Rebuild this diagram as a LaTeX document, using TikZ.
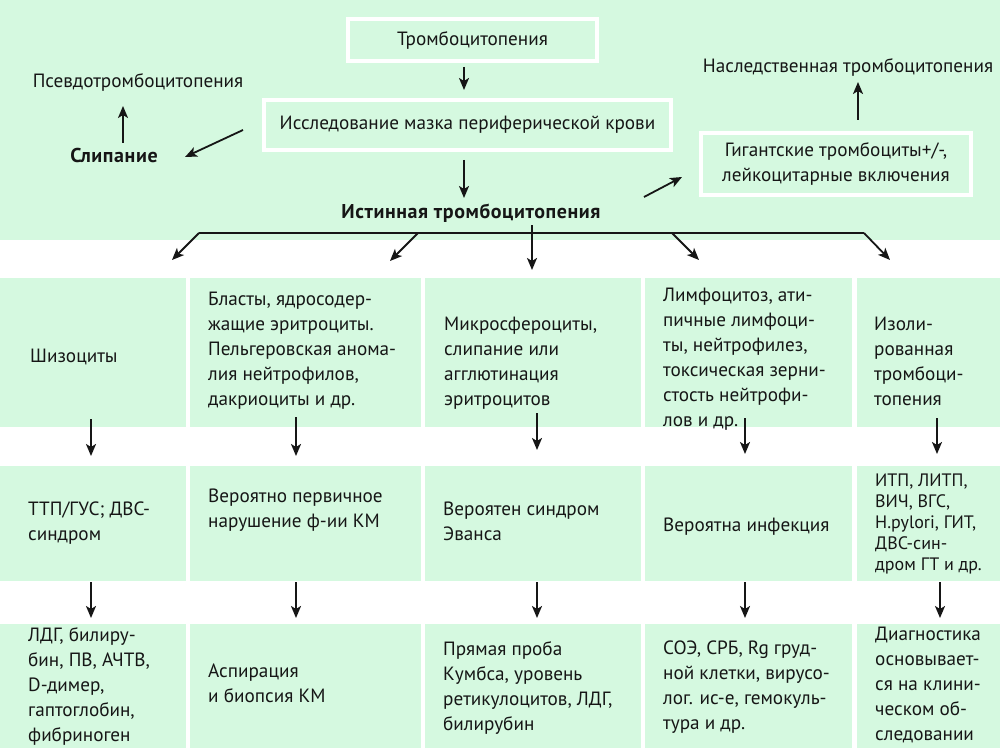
\documentclass[tikz,border=0pt]{standalone}
\usepackage{fontspec}
\setmainfont{PT Sans}
\usetikzlibrary{arrows.meta}
\definecolor{mint}{RGB}{213,249,224}
\definecolor{ink}{RGB}{22,22,22}
\newcommand{\fstrut}{\rule{0pt}{16pt}}
\begin{document}
\begin{tikzpicture}[x=1pt,y=-1pt,
  cell/.style={fill=mint, draw=none, anchor=north west, inner sep=0pt, outer sep=0pt},
  txt/.style={anchor=north west, align=left, inner sep=0pt, text=ink, font=\fontsize{19.2}{25}\selectfont, execute at begin node=\fstrut},
  ctxt/.style={anchor=base, align=center, inner sep=0pt, text=ink, font=\fontsize{19.2}{25}\selectfont},
  btxt/.style={ctxt, font=\fontsize{20}{25}\selectfont\bfseries\addfontfeatures{LetterSpace=3}},
  wbox/.style={fill=mint, draw=white, line width=4pt, align=center, inner sep=0pt, text=ink, font=\fontsize{19.2}{25}\selectfont},
  arr/.style={draw=ink, line width=1.8pt, -{Stealth[length=12pt,width=10pt,inset=3pt]}},
  bline/.style={draw=ink, line width=1.8pt}
]
\useasboundingbox (0,0) rectangle (1000,754);
\fill[white] (0,0) rectangle (1000,754);
\fill[mint] (0,0) rectangle (1000,240);

% top boxes
\node[wbox, minimum width=249pt, minimum height=42pt] (tromb) at (472.5,40) {Тромбоцитопения};
\node[wbox, minimum width=407pt, minimum height=50pt] (mazok) at (467.5,125) {Исследование мазка периферической крови};
\node[wbox, minimum width=270pt, minimum height=62pt] (gig) at (836,164) {Гигантские тромбоциты+/-,\\лейкоцитарные включения};
\node[ctxt] (pseudo) at (138,88) {Псевдотромбоцитопения};
\node[btxt] (slip) at (114,163) {Слипание};
\node[btxt] (ist) at (471,218) {Истинная тромбоцитопения};
\node[ctxt] (nasl) at (848,73) {Наследственная тромбоцитопения};

% top arrows
\coordinate (a1s) at (464,67); \coordinate (a1e) at (464,90);
\coordinate (a2s) at (464,160); \coordinate (a2e) at (464,198);
\coordinate (a3s) at (243,130); \coordinate (a3e) at (185,157);
\coordinate (a4s) at (123,143); \coordinate (a4e) at (123,106);
\coordinate (a5s) at (858,120); \coordinate (a5e) at (858,82);
\coordinate (a6s) at (644,197); \coordinate (a6e) at (682,177);
\draw[arr] (a1s) -- (a1e);
\draw[arr] (a2s) -- (a2e);
\draw[arr] (a3s) -- (a3e);
\draw[arr] (a4s) -- (a4e);
\draw[arr] (a5s) -- (a5e);
\draw[arr] (a6s) -- (a6e);

% branch
\coordinate (bl) at (199,233); \coordinate (bm) at (418,233);
\coordinate (bc) at (532,225); \coordinate (br1) at (672,233); \coordinate (br) at (864,233);
\coordinate (tl) at (172,260); \coordinate (tm) at (390,261); \coordinate (tc) at (532,270);
\coordinate (tr1) at (699,260); \coordinate (tr) at (890,260);
\draw[bline] (bl) -- (br);
\draw[arr] (bl) -- (tl);
\draw[arr] (bm) -- (tm);
\draw[arr] (bc) -- (tc);
\draw[arr] (br1) -- (tr1);
\draw[arr] (br) -- (tr);

% cells
\foreach \c/\x/\w in {1/0/186, 2/190/231, 3/425/216, 4/645/207, 5/857/143} {
  \node[cell, minimum width=\w pt, minimum height=149pt] (r1c\c) at (\x,278) {};
  \node[cell, minimum width=\w pt, minimum height=115pt] (r2c\c) at (\x,466) {};
  \node[cell, minimum width=\w pt, minimum height=124pt] (r3c\c) at (\x,624) {};
}

% row 1 texts (y = first baseline - 16)
\node[txt] (t11) at (30,346) {Шизоциты};
\node[txt] (t12) at (208,292) {Бласты, ядросодер-\\жащие эритроциты.\\Пельгеровская анома-\\лия нейтрофилов,\\дакриоциты и др.};
\node[txt] (t13) at (444,317) {Микросфероциты,\\слипание или\\агглютинация\\эритроцитов};
\node[txt] (t14) at (663,288) {Лимфоцитоз, ати-\\пичные лимфоци-\\ты, нейтрофилез,\\токсическая зерни-\\стость нейтрофи-\\лов и др.};
\node[txt] (t15) at (874,317) {Изоли-\\рованная\\тромбоци-\\топения};

% row 2 texts
\node[txt] (t21) at (28,502) {ТТП/ГУС; ДВС-\\синдром};
\node[txt] (t22) at (208,489) {Вероятно первичное\\нарушение ф-ии КМ};
\node[txt] (t23) at (443,502) {Вероятен синдром\\Эванса};
\node[txt] (t24) at (663,515) {Вероятна инфекция};
\node[txt, font=\fontsize{18}{20.8}\selectfont] (t25) at (875,474) {ИТП, ЛИТП,\\ВИЧ, ВГС,\\H.pylori, ГИТ,\\ДВС-син-\\дром ГТ и др.};

% row 3 texts
\node[txt] (t31) at (28,627) {ЛДГ, билиру-\\бин, ПВ, АЧТВ,\\D-димер,\\гаптоглобин,\\фибриноген};
\node[txt] (t32) at (208,664) {Аспирация\\и биопсия КМ};
\node[txt] (t33) at (443,641) {Прямая проба\\Кумбса, уровень\\ретикулоцитов, ЛДГ,\\билирубин};
\node[txt] (t34) at (663,641) {СОЭ, СРБ, Rg груд-\\ной клетки, вирусо-\\лог. ис-е, гемокуль-\\тура и др.};
\node[txt] (t35) at (875,627) {Диагностика\\основывает-\\ся на клини-\\ческом об-\\следовании};

% vertical arrows between rows
\foreach \c/\x/\s/\e in {1/91/419/456, 2/296/417/456, 3/537/413/450, 4/745/418/454, 5/937/418/454} {
  \coordinate (d\c s) at (\x,\s); \coordinate (d\c e) at (\x,\e);
  \draw[arr] (d\c s) -- (d\c e);
}
\foreach \c/\x in {1/91, 2/296, 3/537, 4/745, 5/940} {
  \coordinate (f\c s) at (\x,582); \coordinate (f\c e) at (\x,618);
  \draw[arr] (f\c s) -- (f\c e);
}
\end{tikzpicture}
\end{document}
